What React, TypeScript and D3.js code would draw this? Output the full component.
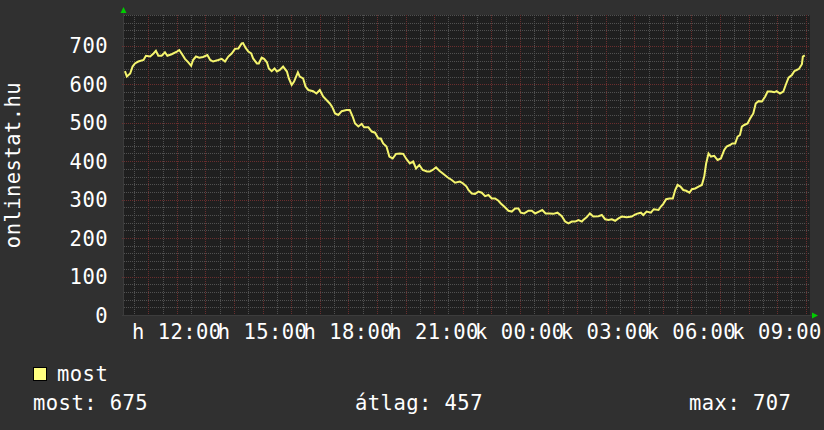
import React from "react";
import * as d3 from "d3";

// minutes after the graph start (Mon 10:09)
const sampleMinutes = [
  2, 6, 13, 18, 23, 30, 41, 46, 55, 62, 67, 72, 79, 86, 91, 100, 111, 116, 121, 128,
  135, 141, 145, 151, 158, 166, 175, 181, 187, 198, 205, 212, 219, 226, 233, 240, 247, 250, 255, 261,
  267, 271, 279, 283, 289, 294, 300, 304, 310, 316, 321, 327, 334, 342, 346, 352, 357, 365, 369, 376,
  381, 387, 397, 404, 411, 418, 425, 432, 437, 443, 450, 457, 467, 474, 480, 485, 492, 499, 504, 513,
  520, 527, 534, 539, 544, 551, 557, 564, 571, 579, 586, 593, 600, 607, 613, 620, 627, 636, 642, 648,
  655, 662, 670, 679, 688, 695, 705, 712, 719, 723, 730, 737, 744, 751, 758, 765, 772, 779, 786, 791,
  798, 807, 814, 821, 828, 833, 840, 849, 856, 863, 871, 878, 885, 894, 901, 910, 919, 926, 933, 940,
  947, 954, 961, 964, 971, 978, 985, 996, 1003, 1010, 1017, 1024, 1031, 1038, 1045, 1055, 1066, 1071, 1076, 1085,
  1090, 1097, 1106, 1112, 1122, 1127, 1132, 1138, 1145, 1152, 1157, 1162, 1168, 1174, 1180, 1187, 1192, 1199, 1206, 1213,
  1218, 1222, 1227, 1232, 1239, 1246, 1253, 1260, 1265, 1272, 1277, 1283, 1288, 1293, 1297, 1302, 1309, 1314, 1321, 1326,
  1332, 1339, 1346, 1351, 1358, 1365, 1370, 1377, 1384, 1389, 1395, 1402, 1407, 1412, 1417, 1423, 1425, 1429,
];
const visitors = [
  634, 620, 628, 646, 654, 659, 663, 674, 672, 680, 687, 674, 674, 683, 674, 678, 685, 689, 680, 666,
  657, 648, 663, 672, 669, 671, 676, 663, 659, 663, 666, 659, 672, 680, 692, 693, 706, 707, 695, 685,
  680, 667, 654, 654, 669, 666, 657, 641, 634, 641, 633, 637, 646, 633, 615, 598, 607, 631, 620, 615,
  594, 585, 582, 576, 585, 568, 559, 550, 541, 524, 520, 530, 533, 533, 516, 498, 490, 497, 488, 488,
  477, 474, 459, 459, 446, 438, 412, 407, 419, 420, 419, 405, 394, 399, 381, 390, 377, 373, 373, 377,
  384, 375, 367, 358, 351, 344, 347, 342, 334, 325, 316, 315, 321, 318, 309, 312, 303, 303, 297, 290,
  282, 271, 269, 277, 277, 266, 264, 271, 271, 264, 269, 273, 264, 264, 263, 266, 257, 243, 238, 243,
  243, 247, 243, 247, 254, 264, 256, 257, 260, 249, 247, 249, 245, 251, 256, 254, 256, 260, 263, 266,
  260, 269, 266, 275, 273, 282, 289, 301, 303, 303, 325, 338, 334, 325, 323, 318, 327, 329, 334, 338,
  360, 394, 420, 412, 414, 403, 407, 429, 438, 442, 446, 446, 464, 468, 490, 494, 498, 510, 524, 550,
  556, 555, 568, 581, 581, 579, 582, 576, 581, 598, 617, 624, 634, 637, 640, 652, 672, 675,
];

// x-axis labels: hours after Monday 00:00
const labelHours = [12, 15, 18, 21, 24, 27, 30, 33];
const labelTexts = ["h 12:00", "h 15:00", "h 18:00", "h 21:00", "k 00:00", "k 03:00", "k 06:00", "k 09:00"];
const yTicks = [0, 100, 200, 300, 400, 500, 600, 700];
const seriesName = "most";
const statLabels = ["most: 675", "átlag: 457", "max: 707"];

const W = 824;
const H = 430;
const X0 = 124;
const X1 = 810;
const Y0 = 315;
const Y1 = 15;
const FONT = "'DejaVu Sans Mono', monospace";

export default function App() {
  const monday = new Date(2024, 0, 1, 0, 0);
  const start = new Date(2024, 0, 1, 10, 9);
  const end = d3.timeMinute.offset(start, 1440);
  const x = d3.scaleTime().domain([start, end]).range([X0, X1]);
  const y = d3.scaleLinear().domain([0, 780]).range([Y0, Y1]);

  const pts = sampleMinutes.map((m, i) => [d3.timeMinute.offset(start, m), visitors[i]] as [Date, number]);
  const line = d3
    .line<[Date, number]>()
    .x((d) => x(d[0]))
    .y((d) => y(d[1]));

  const halfHours = d3.timeMinute.every(30)!.range(start, end);
  const hours = d3.timeHour.every(1)!.range(start, end);
  const minorY = d3.range(0, 781, 20).filter((v) => v % 100 !== 0);
  const crisp = (v: number) => Math.round(v) + 0.5;

  return (
    <svg width={W} height={H} style={{ position: "absolute", left: 0, top: 0, display: "block" }}>
      <rect x={0} y={0} width={W} height={H} fill="#303030" />
      <rect x={X0} y={Y1} width={X1 - X0} height={Y0 - Y1} fill="#1f1f1f" />
      {/* minor grid */}
      <g stroke="#505050" strokeWidth={1} strokeDasharray="1,1">
        {halfHours.filter((t) => t.getMinutes() === 30).map((t, i) => (
          <line key={"mv" + i} x1={crisp(x(t))} x2={crisp(x(t))} y1={Y1} y2={Y0} />
        ))}
        {minorY.map((v, i) => (
          <line key={"mh" + i} x1={X0} x2={X1} y1={crisp(y(v))} y2={crisp(y(v))} />
        ))}
      </g>
      {/* major grid */}
      <g stroke="#6a2e2e" strokeWidth={1} strokeDasharray="1,1">
        {hours.map((t, i) => (
          <line key={"Mv" + i} x1={crisp(x(t))} x2={crisp(x(t))} y1={Y1} y2={Y0 + 2} />
        ))}
        {yTicks.filter((v) => v > 0).map((v, i) => (
          <line key={"Mh" + i} x1={X0 - 2} x2={X1} y1={crisp(y(v))} y2={crisp(y(v))} />
        ))}
      </g>
      {/* axes */}
      <line x1={X0 - 0.5} x2={X0 - 0.5} y1={Y1 - 4} y2={Y0 + 1} stroke="#3c3c3c" />
      <line x1={X0 - 2} x2={X1 + 3} y1={Y0 + 0.5} y2={Y0 + 0.5} stroke="#3c3c3c" />
      <path d={`M${X0 - 3.5},${Y1 - 2} L${X0 + 2.5},${Y1 - 2} L${X0 - 0.5},${Y1 - 8} Z`} fill="#00cc00" />
      <path d={`M${X1 + 2},${Y0 - 2.5} L${X1 + 2},${Y0 + 3.5} L${X1 + 8},${Y0 + 0.5} Z`} fill="#00cc00" />
      {/* data line */}
      <path d={line(pts) || ""} fill="none" stroke="#f5f56e" strokeWidth={2} strokeLinejoin="miter" />
      {/* labels */}
      <g fontFamily={FONT} fontSize={20.5} fill="#ffffff" letterSpacing={0.45}>
        {yTicks.map((v) => (
          <text key={"yl" + v} x={108} y={y(v) + 7.5} textAnchor="end">
            {v}
          </text>
        ))}
        {labelHours.map((h, i) => (
          <text key={"xl" + i} x={x(d3.timeHour.offset(monday, h))} y={338.5} textAnchor="middle">
            {labelTexts[i]}
          </text>
        ))}
        <text transform={`translate(20,165) rotate(-90)`} textAnchor="middle">
          onlinestat.hu
        </text>
        <rect x={33.5} y={367.5} width={13} height={13} fill="#ffff80" stroke="#000000" strokeWidth={1} />
        <text x={57} y={381}>{seriesName}</text>
        <text x={33} y={410}>{statLabels[0]}</text>
        <text x={355} y={410}>{statLabels[1]}</text>
        <text x={689} y={410}>{statLabels[2]}</text>
      </g>
    </svg>
  );
}
